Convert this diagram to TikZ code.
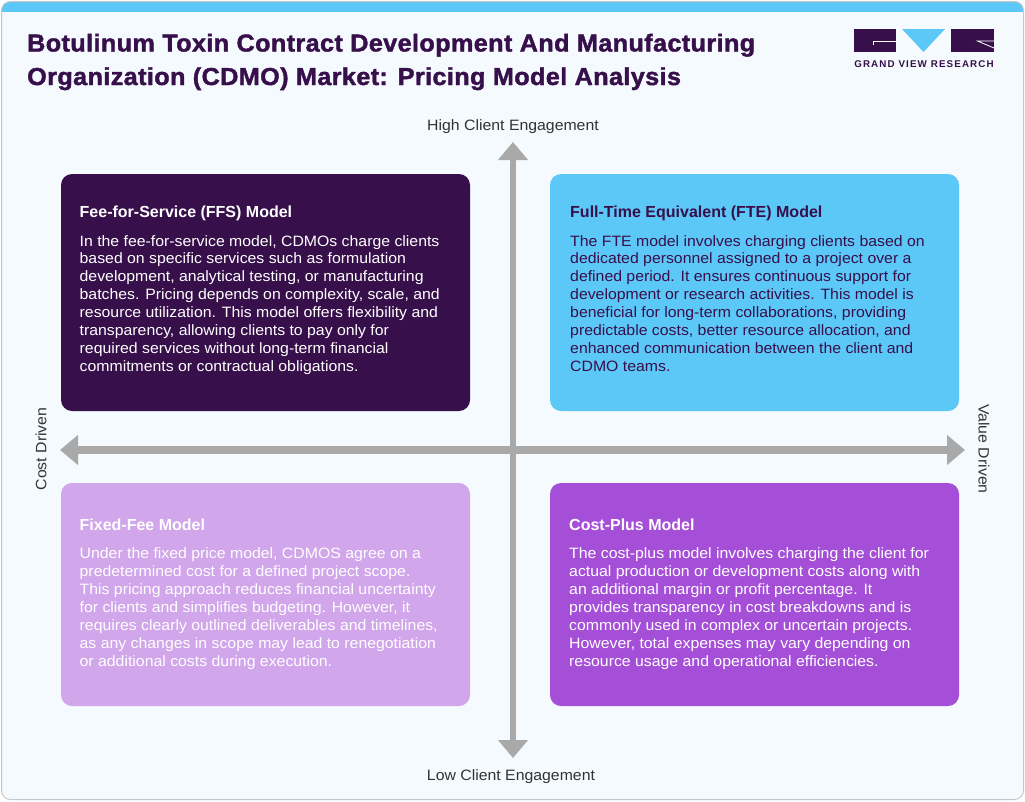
\documentclass[tikz,border=0pt]{standalone}
\usepackage{fontspec}
\setmainfont{Liberation Sans}
\newfontfamily\bodyfont[FakeStretch=1.055]{Liberation Sans}
\newfontfamily\titlefont[FakeStretch=1.03,FakeBold=1.6,LetterSpace=1.5]{Liberation Sans Bold}
\usetikzlibrary{arrows.meta,calc}
\definecolor{dark}{HTML}{370F4A}
\definecolor{sky}{HTML}{5CC8F8}
\definecolor{lilac}{HTML}{D1A6EA}
\definecolor{violet}{HTML}{A54FD8}
\definecolor{paper}{HTML}{F4FAFD}
\definecolor{axis}{HTML}{A9A9A9}
\definecolor{ink}{HTML}{333333}
\tikzset{
  card/.style={rounded corners=11pt,line width=0pt},
  heading/.style={anchor=base west,inner sep=0pt,font=\fontsize{16}{18}\selectfont\bfseries},
  body/.style={anchor=base west,inner sep=0pt,align=left,font=\bodyfont\fontsize{15}{17.85}\selectfont},
  axlabel/.style={inner sep=0pt,text=ink,font=\bodyfont\fontsize{15}{17}\selectfont},
  axisline/.style={draw=axis,line width=7pt,-{Triangle[width=29pt,length=18pt]}},
  titletext/.style={anchor=base west,inner sep=0pt,align=left,text=dark,font=\titlefont\fontsize{24.5}{33.5}\selectfont},
}
\begin{document}
\begin{tikzpicture}[x=1pt,y=-1pt]
\useasboundingbox (0,0) rectangle (1025,801);
\fill[white] (0,0) rectangle (1025,801);
% frame
\fill[sky,rounded corners=9pt] (1.5,1.5) rectangle (1023.5,30);
\fill[paper,rounded corners=0pt] (2,12) -- (1023,12) -- (1023,790) arc[start angle=0,end angle=90,radius=9] -- (11,799) arc[start angle=90,end angle=180,radius=9] -- cycle;
\draw[black!22,line width=1pt,rounded corners=9pt] (1.5,1.5) rectangle (1023.5,799.5);
% title
\node[titletext] (title) at (27,85) {Botulinum Toxin Contract Development And Manufacturing\\Organization (CDMO) Market: Pricing Model Analysis};
% logo
\fill[dark] (853.5,29) rectangle (896,52);
\draw[white,line width=.8pt] (896,41) -- (873.5,41) -- (873.5,45);
\fill[sky] (902,29) -- (945,29) -- (923.5,52) -- cycle;
\fill[dark] (951,29) rectangle (994,52);
\draw[white,line width=.8pt] (994,41) -- (977.5,41) -- (994,48);
\node[anchor=base,inner sep=0pt,text=dark,font=\fontsize{9.8}{11}\selectfont\bfseries] (brand) at (924,67.5) {\addfontfeatures{LetterSpace=11.5}GRAND VIEW RESEARCH};
% cards
\fill[dark,card] (61,174) rectangle (470,411);
\fill[sky,card] (550,174) rectangle (959,411);
\fill[lilac,card] (61,483) rectangle (470,706);
\fill[violet,card] (550,483) rectangle (959,706);
% axes
\coordinate (top) at (513,142);
\coordinate (bottom) at (513,758);
\coordinate (left) at (60,450);
\coordinate (right) at (965,450);
\draw[axisline,{Triangle[width=29pt,length=18pt]}-{Triangle[width=29pt,length=18pt]},line width=6.5pt] (bottom) -- (top);
\draw[axisline,{Triangle[width=29pt,length=18pt]}-{Triangle[width=29pt,length=18pt]},line width=8pt] (left) -- (right);
\node[axlabel] (high) at (513,127) {High Client Engagement};
\node[axlabel] (low) at (511,777) {Low Client Engagement};
\node[axlabel,rotate=90] (cost) at (41,449) {Cost Driven};
\node[axlabel,rotate=-90] (value) at (984,449) {Value Driven};
% text
\node[heading,text=white] (h1) at (79.5,217.5) {Fee-for-Service (FFS) Model};
\node[body,text=white] (b1) at (79.5,371) {In the fee-for-service model, CDMOs charge clients\\based on specific services such as formulation\\development, analytical testing, or manufacturing\\batches. Pricing depends on complexity, scale, and\\resource utilization. This model offers flexibility and\\transparency, allowing clients to pay only for\\required services without long-term financial\\commitments or contractual obligations.};
\node[heading,text=dark] (h2) at (570,217.5) {Full-Time Equivalent (FTE) Model};
\node[body,text=dark] (b2) at (570,371) {The FTE model involves charging clients based on\\dedicated personnel assigned to a project over a\\defined period. It ensures continuous support for\\development or research activities. This model is\\beneficial for long-term collaborations, providing\\predictable costs, better resource allocation, and\\enhanced communication between the client and\\CDMO teams.};
\node[heading,text=white] (h3) at (79.5,530.5) {Fixed-Fee Model};
\node[body,text=white] (b3) at (79.5,666) {Under the fixed price model, CDMOS agree on a\\predetermined cost for a defined project scope.\\This pricing approach reduces financial uncertainty\\for clients and simplifies budgeting. However, it\\requires clearly outlined deliverables and timelines,\\as any changes in scope may lead to renegotiation\\or additional costs during execution.};
\node[heading,text=white] (h4) at (569,530.5) {Cost-Plus Model};
\node[body,text=white] (b4) at (569,666) {The cost-plus model involves charging the client for\\actual production or development costs along with\\an additional margin or profit percentage. It\\provides transparency in cost breakdowns and is\\commonly used in complex or uncertain projects.\\However, total expenses may vary depending on\\resource usage and operational efficiencies.};
\end{tikzpicture}
\end{document}
